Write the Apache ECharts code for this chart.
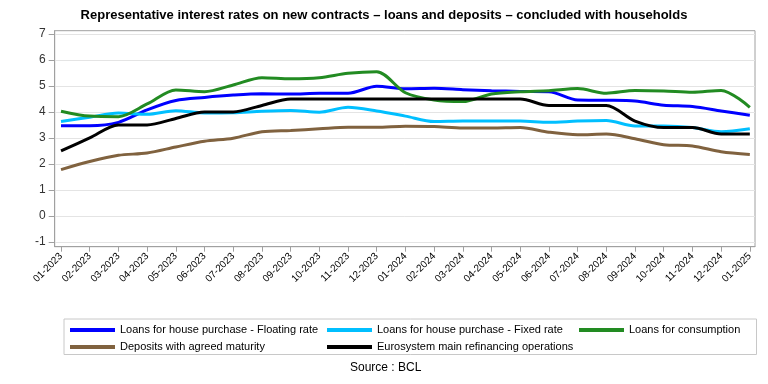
<!DOCTYPE html>
<html>
<head>
<meta charset="utf-8">
<script src="https://cdn.jsdelivr.net/npm/echarts@6/dist/echarts.min.js"></script>
<style>
html,body{margin:0;padding:0;background:#fff;}
#chart{width:768px;height:384px;}
</style>
</head>
<body>
<div id="chart"></div>
<script>
const categories = ['01-2023','02-2023','03-2023','04-2023','05-2023','06-2023','07-2023','08-2023','09-2023','10-2023','11-2023','12-2023',
  '01-2024','02-2024','03-2024','04-2024','05-2024','06-2024','07-2024','08-2024','09-2024','10-2024','11-2024','12-2024','01-2025'];
const floatingRate = [3.47,3.47,3.60,4.08,4.44,4.56,4.65,4.70,4.69,4.72,4.72,4.99,4.89,4.91,4.86,4.82,4.79,4.78,4.46,4.45,4.42,4.26,4.21,4.04,3.87];
const fixedRate = [3.63,3.80,3.96,3.91,4.05,3.96,3.97,4.03,4.06,3.99,4.18,4.04,3.84,3.63,3.65,3.65,3.65,3.60,3.65,3.67,3.46,3.46,3.40,3.24,3.35];
const consumption = [4.03,3.84,3.82,4.31,4.85,4.78,5.04,5.32,5.28,5.32,5.49,5.55,4.74,4.46,4.40,4.69,4.78,4.82,4.90,4.72,4.83,4.81,4.76,4.83,4.18];
const deposits = [1.78,2.09,2.33,2.42,2.65,2.87,2.99,3.24,3.29,3.35,3.41,3.41,3.45,3.44,3.38,3.38,3.40,3.22,3.12,3.15,2.97,2.74,2.69,2.47,2.36];
const eurosystem = [2.50,3.00,3.50,3.50,3.75,4.00,4.00,4.25,4.50,4.50,4.50,4.50,4.50,4.50,4.50,4.50,4.50,4.25,4.25,4.25,3.65,3.40,3.40,3.15,3.15];
const yTicks = [-1,0,1,2,3,4,5,6,7];
const xTicks = categories.map((c, i) => i);

const seriesNames = [
  'Loans for house purchase - Floating rate',
  'Loans for house purchase - Fixed rate',
  'Loans for consumption',
  'Deposits with agreed maturity',
  'Eurosystem main refinancing operations'
];
const seriesValues = [floatingRate, fixedRate, consumption, deposits, eurosystem];
const seriesColors = ['#0000ff', '#00bfff', '#228b22', '#80623f', '#000000'];
const legendColumn = ['c1', 'c2', 'c3', 'c1', 'c2'];

const chart = echarts.init(document.getElementById('chart'), null, {renderer: 'canvas'});
const font = 'Liberation Sans, Arial, sans-serif';

chart.setOption({
  animation: false,
  backgroundColor: '#fff',
  textStyle: {fontFamily: font},
  title: [
    {
      text: 'Representative interest rates on new contracts \u2013 loans and deposits \u2013 concluded with households',
      left: 'center', top: 9, padding: 0,
      textStyle: {fontSize: 13, fontWeight: 'bold', color: '#000', fontFamily: font}
    },
    {
      text: 'Source : BCL',
      left: 350, top: 362, padding: 0,
      textStyle: {fontSize: 12, fontWeight: 'normal', color: '#000', fontFamily: font}
    }
  ],
  grid: {
    left: 54.7, right: 13, top: 30.7, bottom: 137.3,
    show: true, borderColor: '#a0a0a0', borderWidth: 1
  },
  legend: {
    left: 64, top: 319,
    orient: 'horizontal',
    width: 690,
    padding: [5.5, 8.5, 2, 6],
    borderColor: '#c8c8c8', borderWidth: 1,
    itemWidth: 45, itemHeight: 4, itemGap: 6,
    icon: 'rect',
    formatter: name => '{' + legendColumn[seriesNames.indexOf(name)] + '|' + name + '}',
    textStyle: {
      fontSize: 11, color: '#000', fontFamily: font,
      rich: {
        c1: {width: 201, fontSize: 11, lineHeight: 11, fontFamily: font, color: '#000'},
        c2: {width: 196, fontSize: 11, lineHeight: 11, fontFamily: font, color: '#000'},
        c3: {width: 119, fontSize: 11, lineHeight: 11, fontFamily: font, color: '#000'}
      }
    },
    data: seriesNames
  },
  xAxis: {
    type: 'value',
    min: -0.22, max: 24.18,
    axisLine: {show: true, onZero: false, lineStyle: {color: '#a0a0a0'}},
    axisTick: {show: true, customValues: xTicks, length: 5, lineStyle: {color: '#a0a0a0'}},
    axisLabel: {
      customValues: xTicks,
      formatter: v => categories[Math.round(v)],
      rotate: 45, fontSize: 10, color: '#000', margin: 8, fontFamily: font
    },
    splitLine: {show: false}
  },
  yAxis: {
    type: 'value',
    min: -1.19, max: 7.13,
    axisLine: {show: true, onZero: false, lineStyle: {color: '#a0a0a0'}},
    axisTick: {show: true, customValues: yTicks, length: 6, lineStyle: {color: '#a0a0a0'}},
    axisLabel: {customValues: yTicks, fontSize: 12, color: '#333', margin: 9, fontFamily: font},
    splitLine: {show: true, lineStyle: {color: '#e4e4e4', width: 1}}
  },
  series: seriesNames.map((n, k) => ({
    name: n,
    type: 'line',
    smooth: 0.3,
    symbol: 'none',
    color: seriesColors[k],
    lineStyle: {width: 3, color: seriesColors[k]},
    data: seriesValues[k].map((v, i) => [i, v])
  }))
});
</script>
</body>
</html>
